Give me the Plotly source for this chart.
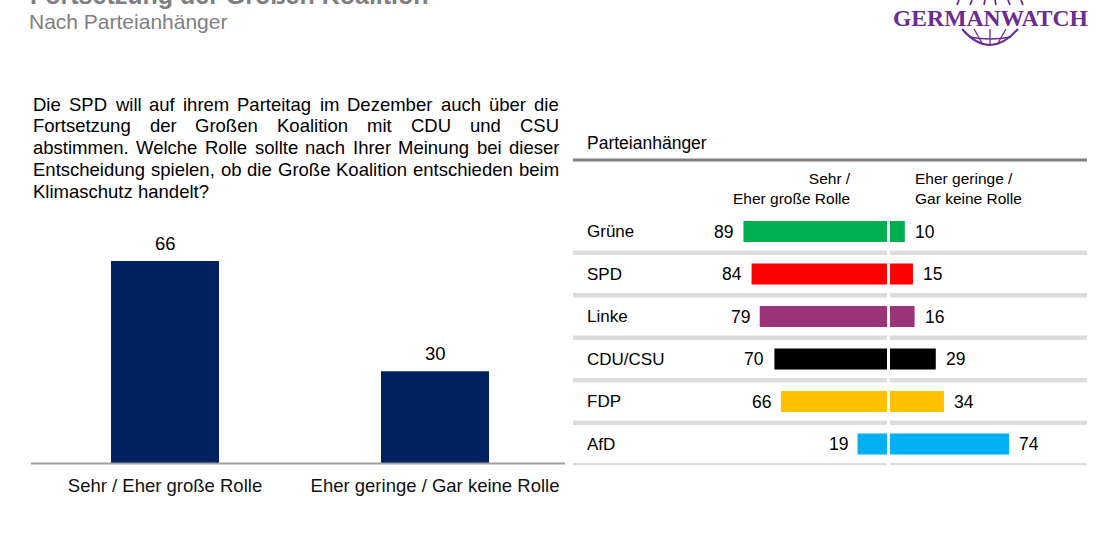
import plotly.graph_objects as go

# ---------------- data ----------------
overall_categories = ["Sehr / Eher große Rolle", "Eher geringe / Gar keine Rolle"]
overall_values = [66, 30]

parties = ["Grüne", "SPD", "Linke", "CDU/CSU", "FDP", "AfD"]
gross_rolle = [89, 84, 79, 70, 66, 19]
geringe_rolle = [10, 15, 16, 29, 34, 74]
party_colors = ["#00b050", "#ff0000", "#9b3378", "#000000", "#ffc000", "#00b0f0"]

title_text = "Fortsetzung der Großen Koalition"
subtitle_text = "Nach Parteianhänger"
question_lines = [
    "Die SPD will auf ihrem Parteitag im Dezember auch über die",
    "Fortsetzung der Großen Koalition mit CDU und CSU",
    "abstimmen. Welche Rolle sollte nach Ihrer Meinung bei dieser",
    "Entscheidung spielen, ob die Große Koalition entschieden beim",
    "Klimaschutz handelt?",
]
header_left = "Sehr /<br>Eher große Rolle"
header_right = "Eher geringe /<br>Gar keine Rolle"
panel_title = "Parteianhänger"
logo_text = "GERMANWATCH"

# ---------------- helpers ----------------
W, H = 1120, 560
FONT = "Liberation Sans, Arial, sans-serif"


def xp(px):
    return px / W


def yp(py):
    return (H - py) / H


# Arial / Liberation Sans advance widths (per em)
AW = {
    'a': .556, 'b': .556, 'c': .5, 'd': .556, 'e': .556, 'f': .278, 'g': .556, 'h': .556,
    'i': .222, 'j': .222, 'k': .5, 'l': .222, 'm': .833, 'n': .556, 'o': .556, 'p': .556,
    'q': .556, 'r': .333, 's': .5, 't': .278, 'u': .556, 'v': .5, 'w': .722, 'x': .5,
    'y': .5, 'z': .5, 'A': .667, 'B': .667, 'C': .722, 'D': .722, 'E': .667, 'F': .611,
    'G': .778, 'H': .722, 'I': .278, 'J': .5, 'K': .667, 'L': .556, 'M': .833, 'N': .722,
    'O': .778, 'P': .667, 'Q': .778, 'R': .722, 'S': .667, 'T': .611, 'U': .722, 'V': .667,
    'W': .944, 'X': .667, 'Y': .667, 'Z': .611, 'ü': .556, 'ä': .556, 'ö': .556, 'ß': .611,
    ' ': .278, '.': .278, ',': .278, '?': .556, '/': .278,
}


def tw(s, size):
    return sum(AW.get(c, .556) for c in s) * size


# ---------------- figure ----------------
fig = go.Figure()

# left overall bar chart
fig.add_trace(go.Bar(
    x=overall_categories, y=overall_values, width=0.4,
    marker=dict(color="#002060", line=dict(width=0)),
    xaxis="x", yaxis="y", showlegend=False, hoverinfo="x+y",
))

# right diverging bars
fig.add_trace(go.Bar(
    y=parties, x=[-v for v in gross_rolle], orientation="h", width=0.49,
    marker=dict(color=party_colors, line=dict(width=0)),
    xaxis="x2", yaxis="y2", showlegend=False,
))
fig.add_trace(go.Bar(
    y=parties, x=geringe_rolle, orientation="h", width=0.49,
    marker=dict(color=party_colors, line=dict(width=0)),
    xaxis="x2", yaxis="y2", showlegend=False,
))

scale = 1.63
center_px = 888.5
x2_range = [(573 - center_px) / scale, (1087 - center_px) / scale]

fig.update_layout(
    width=W, height=H,
    margin=dict(l=0, r=0, t=0, b=0),
    paper_bgcolor="white", plot_bgcolor="rgba(0,0,0,0)",
    barmode="overlay",
    font=dict(family=FONT, color="#000000"),
    xaxis=dict(domain=[xp(30), xp(570)], type="category", range=[-0.5, 1.5],
               showgrid=False, zeroline=False, showline=False,
               ticks="outside", ticklen=6, tickcolor="rgba(0,0,0,0)",
               tickfont=dict(size=18.5, color="#111111", family=FONT)),
    yaxis=dict(domain=[yp(463), yp(157)], range=[0, 100], visible=False, fixedrange=True),
    xaxis2=dict(domain=[xp(573), xp(1087)], range=x2_range, visible=False),
    yaxis2=dict(domain=[yp(465.25), yp(210.25)], type="category",
                categoryorder="array", categoryarray=parties,
                range=[len(parties) - 0.5, -0.5], visible=False),
)

shapes = []
# baseline of left chart
shapes.append(dict(type="line", xref="paper", yref="paper",
                   x0=xp(31), x1=xp(565), y0=yp(463.5), y1=yp(463.5),
                   line=dict(color="#a0a0a0", width=2)))
# header rule right panel
shapes.append(dict(type="line", xref="paper", yref="paper",
                   x0=xp(573), x1=xp(1087), y0=yp(160), y1=yp(160),
                   line=dict(color="#808080", width=3)))
# row separators
for i in range(len(parties)):
    shapes.append(dict(type="line", xref="paper", yref="y2",
                       x0=xp(573), x1=xp(1087), y0=i + 0.5, y1=i + 0.5,
                       line=dict(color="#dcdcdc", width=4.5), layer="below"))
# white centre gap
shapes.append(dict(type="line", xref="x2", yref="paper", x0=0, x1=0,
                   y0=yp(470), y1=yp(212), line=dict(color="white", width=3), layer="above"))

# logo globe
PURPLE = "#6b2c91"


def ppath(cmds):
    out = []
    for c in cmds:
        if isinstance(c, str):
            out.append(c)
        else:
            out.append(f"{xp(c[0]):.5f},{yp(c[1]):.5f}")
    return " ".join(out)


shapes.append(dict(type="path", xref="paper", yref="paper",
                   path=ppath(["M", (962, 29), "Q", (990, 61), (1018, 29)]),
                   line=dict(color=PURPLE, width=2)))
shapes.append(dict(type="path", xref="paper", yref="paper",
                   path=ppath(["M", (969, 37), "Q", (990, 41), (1011, 37)]),
                   line=dict(color=PURPLE, width=1.3)))
for a, b in [((974, 29), (982, 43)), ((990, 29), (990, 45)), ((1006, 29), (998, 43))]:
    shapes.append(dict(type="line", xref="paper", yref="paper",
                       x0=xp(a[0]), y0=yp(a[1]), x1=xp(b[0]), y1=yp(b[1]),
                       line=dict(color=PURPLE, width=1.3)))
for a, b in [((957, 5), (959, 0)), ((970, 5), (972, 0)), ((984, 5), (985, 0)),
             ((996, 5), (995, 0)), ((1010, 5), (1008, 0)), ((1023, 5), (1021, 0))]:
    shapes.append(dict(type="line", xref="paper", yref="paper",
                       x0=xp(a[0]), y0=yp(a[1]), x1=xp(b[0]), y1=yp(b[1]),
                       line=dict(color=PURPLE, width=1.8)))

fig.update_layout(shapes=shapes)

ann = []
# title (cut off at top, as in the source slide) and subtitle
ann.append(dict(text=f"<b>{title_text}</b>", xref="paper", yref="paper",
                x=xp(28), y=yp(-5), xanchor="left", yanchor="middle", showarrow=False,
                font=dict(size=25, color="#7f7f7f", family=FONT)))
ann.append(dict(text=subtitle_text, xref="paper", yref="paper",
                x=xp(27), y=yp(22), xanchor="left", yanchor="middle", showarrow=False,
                font=dict(size=21, color="#7f7f7f", family=FONT)))
# logo
ann.append(dict(text=f"<b>{logo_text}</b>", xref="paper", yref="paper",
                x=xp(990.5), y=yp(17.5), xanchor="center", yanchor="middle", showarrow=False,
                font=dict(size=23.6, color=PURPLE, family="Liberation Serif, Times New Roman, serif")))

# question text, justified word by word
QS = 18.5
qx0, qx1 = 31, 557
for li, line in enumerate(question_lines):
    ypx = 104 + 21.75 * li
    words = line.split(" ")
    widths = [tw(w, QS) for w in words]
    if li < len(question_lines) - 1 and len(words) > 1:
        gap = (qx1 - qx0 - sum(widths)) / (len(words) - 1)
    else:
        gap = tw(" ", QS)
    cx = qx0
    for w, wd in zip(words, widths):
        ann.append(dict(text=w, xref="paper", yref="paper", x=xp(cx), y=yp(ypx),
                        xanchor="left", yanchor="middle", showarrow=False,
                        font=dict(size=QS, color="#000000", family=FONT)))
        cx += wd + gap

# left bar values
for c, v in zip(overall_categories, overall_values):
    ann.append(dict(text=str(v), x=c, y=v, xref="x", yref="y", xanchor="center",
                    yanchor="bottom", yshift=5, showarrow=False,
                    font=dict(size=18.5, color="#000000", family=FONT)))

# right panel title and headers
ann.append(dict(text=panel_title, xref="paper", yref="paper", x=xp(585), y=yp(143),
                xanchor="left", yanchor="middle", showarrow=False,
                font=dict(size=17.5, color="#000000", family=FONT)))
ann.append(dict(text=header_left, xref="paper", yref="paper", x=xp(853), y=yp(188),
                xanchor="right", yanchor="middle", align="right", showarrow=False,
                font=dict(size=15.5, color="#000000", family=FONT)))
ann.append(dict(text=header_right, xref="paper", yref="paper", x=xp(913), y=yp(188),
                xanchor="left", yanchor="middle", align="left", showarrow=False,
                font=dict(size=15.5, color="#000000", family=FONT)))

# party labels and values
for p, g, r in zip(parties, gross_rolle, geringe_rolle):
    ann.append(dict(text=p, xref="paper", yref="y2", x=xp(585), y=p,
                    xanchor="left", yanchor="middle", showarrow=False,
                    font=dict(size=17, color="#000000", family=FONT)))
    ann.append(dict(text=str(g), xref="x2", yref="y2", x=-g, y=p,
                    xanchor="right", yanchor="middle", xshift=-8, showarrow=False,
                    font=dict(size=17.5, color="#000000", family=FONT)))
    ann.append(dict(text=str(r), xref="x2", yref="y2", x=r, y=p,
                    xanchor="left", yanchor="middle", xshift=8, showarrow=False,
                    font=dict(size=17.5, color="#000000", family=FONT)))

fig.update_layout(annotations=ann)

fig.write_html("out.html", config={"displayModeBar": False},
               post_script="document.body.style.margin='0';")
